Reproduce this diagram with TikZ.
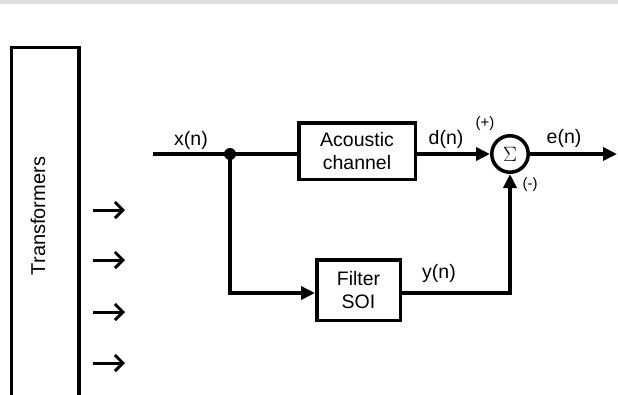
\documentclass[tikz,border=0pt]{standalone}
\usepackage{fontspec}
\setmainfont{Liberation Sans}
\usetikzlibrary{arrows.meta,calc}
\definecolor{band}{RGB}{220,221,223}
\begin{document}
\begin{tikzpicture}[x=1pt,y=1pt,
  wire/.style={line width=3.5pt},
  sig/.style={wire,-{Triangle[length=14pt,width=13pt]}},
  barb/.style={line width=3pt,-{Straight Barb[length=8pt,width=16pt]}},
  blk/.style={draw,line width=3.5pt,align=center,inner sep=0pt,font=\fontsize{19.5}{23}\selectfont},
  lbl/.style={font=\fontsize{19.5}{22}\selectfont,inner sep=0pt},
  sml/.style={font=\fontsize{15}{17}\selectfont,inner sep=0pt}]
\useasboundingbox (0,0) rectangle (618,-394);
\fill[band] (0,0) rectangle (618,-4);
% Transformers box (runs off the bottom)
\begin{scope}
\clip (0,0) rectangle (618,-394);
\node[draw,line width=3.5pt,minimum width=67.5pt,minimum height=370pt,anchor=north west] (tr) at (9.75,-45.75) {};
\end{scope}
\node[rotate=90,lbl,font=\fontsize{20}{22}\selectfont] (trl) at (38,-216) {Transformers};
% small arrows
\foreach \i/\yy in {1/210,2/260,3/312,4/363}{
  \coordinate (as\i) at (93,-\yy);
  \coordinate (ae\i) at (125,-\yy);
  \draw[barb] (as\i) -- (ae\i);
}
% blocks
\node[blk,minimum width=116.5pt,minimum height=56.5pt] (ac) at (357,-151) {Acoustic\\channel};
\node[blk,minimum width=83.5pt,minimum height=60.5pt] (f) at (358.5,-290) {Filter\\SOI};
\node[draw,circle,line width=3.5pt,minimum size=36.5pt,inner sep=0pt] (sum) at (510,-154) {\fontsize{21}{21}\selectfont$\Sigma$};
% coordinates
\coordinate (in) at (153,-154);
\coordinate (j) at (230,-154);
\coordinate (fy) at (0,-293);
\coordinate (out) at (617,-154);
\node[circle,fill,inner sep=0pt,minimum size=12pt] (dot) at (j) {};
% connectors
\draw[wire] (in) -- (dot.center) -- (dot.center -| ac.west);
\draw[sig] (ac.east |- sum) -- (sum.west);
\draw[sig] (sum.east) -- (out);
\draw[sig] (dot.center) |- (f.west |- fy);
\draw[sig] (f.east |- fy) -| (sum.south);
% labels
\node[lbl] (xn) at (191,-140) {x(n)};
\node[lbl] (dn) at (446,-139) {d(n)};
\node[lbl] (en) at (564,-138) {e(n)};
\node[lbl] (yn) at (439,-273) {y(n)};
\node[sml] (plus) at (485,-124) {(+)};
\node[sml] (minus) at (530,-185) {(-)};
\end{tikzpicture}
\end{document}
